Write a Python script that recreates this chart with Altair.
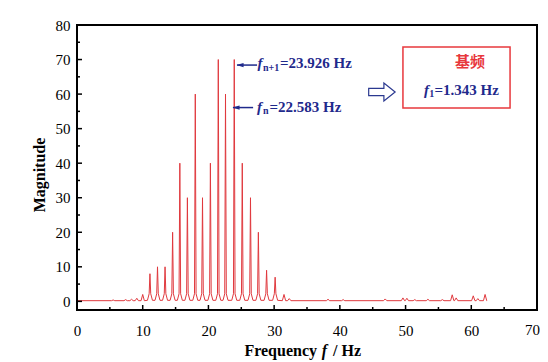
import altair as alt
import pandas as pd

# ---- data ----
peak_freqs = [11.1, 12.25, 13.4, 14.55, 15.65, 16.8, 18.0, 19.1, 20.3, 21.5,
              22.6, 23.93, 25.15, 26.4, 27.6, 28.85, 30.15]
peak_mags = [8, 10, 10, 20, 40, 30, 60, 30, 40, 70, 60, 70, 40, 30, 20, 9, 7]

bump_freqs = [5.5, 7.4, 8.3, 9.1, 10.0, 31.5, 32.3, 38.2, 40.5, 46.9, 49.6,
              50.2, 51.4, 53.4, 55.6, 57.1, 57.7, 60.3, 61.0, 62.1]
bump_mags = [0.4, 0.5, 0.6, 0.9, 2.0, 2.0, 0.8, 0.6, 0.5, 0.7, 1.0, 0.9, 0.5,
             0.6, 0.5, 1.9, 1.0, 1.6, 0.8, 2.0]

baseline_level = 0.2
freq_start, freq_end = 0.0, 62.4

x_major = [0, 10, 20, 30, 40, 50, 60, 70]
x_minor = [5, 15, 25, 35, 45, 55, 65]
y_major = [0, 10, 20, 30, 40, 50, 60, 70, 80]
y_minor = [5, 15, 25, 35, 45, 55, 65, 75]

X_MIN, X_MAX = 0, 70
Y_MIN, Y_MAX = -2.5, 80

W, H = 460, 285
RED = "#e0393e"
BOXRED = "#e8383d"
BLUE = "#1f2a8c"
SERIF = "Liberation Serif"

# ---- build the spectrum table (each peak drawn as a narrow spike) ----
rows = [(freq_start, baseline_level), (freq_end, baseline_level)]
for c, h in zip(peak_freqs, peak_mags):
    rows += [(c - 0.38, 0.3), (c - 0.12, 2.2), (c, h), (c + 0.12, 2.2), (c + 0.38, 0.3)]
for c, h in zip(bump_freqs, bump_mags):
    rows += [(c - 0.25, baseline_level), (c, h), (c + 0.25, baseline_level)]
spec = pd.DataFrame(rows, columns=["f", "m"]).sort_values("f").reset_index(drop=True)

xs = alt.Scale(domain=[X_MIN, X_MAX], nice=False, zero=False)
ys = alt.Scale(domain=[Y_MIN, Y_MAX], nice=False, zero=False)
xaxis = alt.Axis(values=x_major, ticks=False, grid=False, domain=False, title=None,
                 labelFont=SERIF, labelFontSize=15, labelColor="black", labelPadding=13,
                 labelFlush=False,
                 labelExpr="datum.value == 70 ? '' : datum.label")
yaxis = alt.Axis(values=y_major, ticks=False, grid=False, domain=False, title=None,
                 labelFont=SERIF, labelFontSize=15, labelColor="black", labelPadding=7)

def X(field="f"):
    return alt.X(f"{field}:Q", scale=xs, axis=xaxis)

def Y(field="m"):
    return alt.Y(f"{field}:Q", scale=ys, axis=yaxis)

line = alt.Chart(spec).mark_line(color=RED, strokeWidth=1).encode(
    x=X(), y=Y(), order="f:Q")

# frame around the plot area: horizontal and vertical rules in data coordinates
hframe = alt.Chart(pd.DataFrame({"m": [Y_MIN, Y_MAX]})).mark_rule(
    color="black", strokeWidth=2).encode(y=Y(), x=alt.value(0), x2=alt.value(W))
vframe = alt.Chart(pd.DataFrame({"f": [X_MIN, X_MAX]})).mark_rule(
    color="black", strokeWidth=2).encode(x=X(), y=alt.value(0), y2=alt.value(H))

# last x tick label, kept inside the page edge
last_label = alt.Chart(pd.DataFrame({"f": [X_MAX], "m": [Y_MIN], "t": ["70"]})).mark_text(
    font=SERIF, fontSize=15, align="right", baseline="top", color="black", dx=3, dy=13).encode(
    text="t:N", x=X(), y=Y())

# inward ticks
def xticks(vals, length):
    return alt.Chart(pd.DataFrame({"f": vals})).mark_rule(color="black", strokeWidth=1.5).encode(
        x=X(), y=alt.value(H), y2=alt.value(H - length))

def yticks(vals, length):
    return alt.Chart(pd.DataFrame({"m": vals})).mark_rule(color="black", strokeWidth=1.5).encode(
        y=Y(), x=alt.value(0), x2=alt.value(length))

# axis titles
def label(text, x, y, angle=0, style="normal", align="left", size=16):
    kw = dict(font=SERIF, fontSize=size, fontWeight="bold", fontStyle=style,
              align=align, baseline="middle", color="black")
    if angle:
        kw["angle"] = angle
    return alt.Chart(pd.DataFrame({"t": [text]})).mark_text(**kw).encode(
        text="t:N", x=alt.value(x), y=alt.value(y))

xtitle = (label("Frequency", 240, 326, align="right")
          + label("f", 247.5, 326, style="italic", align="center")
          + label("/ Hz", 256, 326, align="left"))
ytitle = label("Magnitude", -37, 150, angle=270, align="center")

# annotations in data coordinates
def dtext(text, f, m, size=15, style="normal", align="left", color=BLUE, font=SERIF, weight="bold"):
    return alt.Chart(pd.DataFrame({"f": [f], "m": [m], "t": [text]})).mark_text(
        font=font, fontSize=size, fontWeight=weight, fontStyle=style, align=align,
        baseline="middle", color=color).encode(x=X(), y=Y(), text="t:N")

ann = (
    dtext("f", 27.85, 69.0, style="italic", align="center")
    + dtext("n+1", 28.3, 67.6, size=10)
    + dtext("=23.926 Hz", 30.9, 69.0)
    + dtext("f", 27.77, 56.3, style="italic", align="center")
    + dtext("n", 28.3, 55.0, size=10)
    + dtext("=22.583 Hz", 29.3, 56.3)
    + dtext("f", 53.2, 61.2, style="italic", align="center")
    + dtext("1", 53.6, 60.0, size=10)
    + dtext("=1.343 Hz", 54.4, 61.2)
    + dtext("基频", 57.52, 69.3, color=BOXRED, font="Noto Sans CJK SC", weight="bold")
)

arrows_df = pd.DataFrame({"f": [24.35, 23.74], "f2": [27.4, 26.8], "m": [68.4, 56.1]})
arrow_lines = alt.Chart(arrows_df).mark_rule(color=BLUE, strokeWidth=1.5).encode(
    x=X(), x2="f2:Q", y=Y())
arrow_heads = alt.Chart(arrows_df).mark_point(
    shape="M -1 0 L 1 -0.6 L 1 0.6 Z", filled=True, color=BLUE, size=50, opacity=1).encode(
    x=X(), y=Y(), xOffset=alt.value(3))

box = alt.Chart(pd.DataFrame({"f": [49.6], "f2": [65.9], "m": [56.0], "m2": [73.6]})).mark_rect(
    fillOpacity=0, stroke=BOXRED, strokeWidth=1.5).encode(
    x=X(), x2="f2:Q", y=Y(), y2="m2:Q")

hollow = alt.Chart(pd.DataFrame({"f": [46.4], "m": [60.6]})).mark_point(
    shape="M -1 -0.28 L 0.15 -0.28 L 0.15 -0.68 L 1 0 L 0.15 0.68 L 0.15 0.28 L -1 0.28 Z",
    filled=False, stroke="#2b3990", strokeWidth=1.2, size=700, opacity=1).encode(
    x=X(), y=Y())

chart = alt.layer(
    line, xticks(x_major, 5), xticks(x_minor, 3), yticks(y_major, 5),
    yticks(y_minor, 3), xtitle, ytitle, ann, arrow_lines, arrow_heads, box, hollow,
    hframe, vframe, last_label,
).properties(
    width=W, height=H,
    background="white",
    autosize=alt.AutoSizeParams(type="none"),
    padding={"left": 69, "top": 17, "right": 3, "bottom": 52},
).configure_view(stroke="black", strokeWidth=2)

chart.save("out.html", embed_options={"renderer": "svg", "actions": False})
